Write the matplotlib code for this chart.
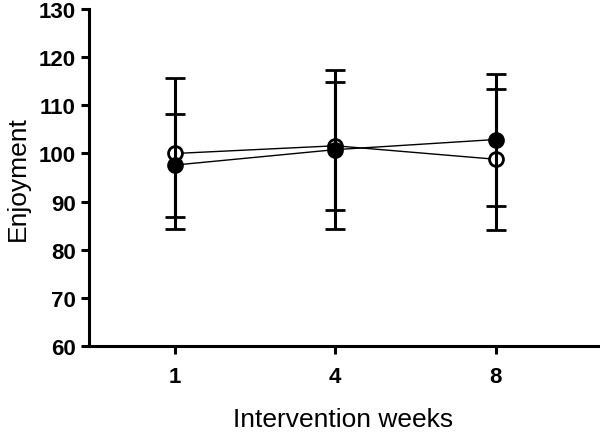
import matplotlib
matplotlib.use("Agg")
import matplotlib.pyplot as plt

weeks = ["1", "4", "8"]
open_mean = [100.0, 101.6, 98.8]
open_sd = [15.7, 13.3, 14.6]
filled_mean = [97.6, 100.8, 102.9]
filled_sd = [10.7, 16.5, 13.7]

plt.rcParams['font.family'] = ['Liberation Sans', 'DejaVu Sans']

fig = plt.figure(figsize=(6, 4.35), dpi=100)
ax = fig.add_axes([0.148, 0.202, 0.849, 0.775])

x = [1, 2, 3]
ax.errorbar(x, open_mean, yerr=open_sd, fmt='-', color='black', lw=1.0,
            elinewidth=2.2, capsize=7, capthick=2.2, marker='o',
            markersize=10, markerfacecolor='white', markeredgecolor='black',
            markeredgewidth=2.0, zorder=3)
ax.errorbar(x, filled_mean, yerr=filled_sd, fmt='-', color='black', lw=1.0,
            elinewidth=2.2, capsize=7, capthick=2.2, marker='o',
            markersize=10, markerfacecolor='black', markeredgecolor='black',
            markeredgewidth=2.0, zorder=4)

ax.set_xlim(0.4625, 3.64)
ax.set_ylim(60, 130)
ax.set_yticks(range(60, 131, 10))
ax.set_xticks(x)
ax.set_xticklabels(weeks)

for s in ['top', 'right']:
    ax.spines[s].set_visible(False)
for s in ['left', 'bottom']:
    ax.spines[s].set_linewidth(2.2)

ax.tick_params(axis='both', width=2.2, length=6, labelsize=16, direction='out')
ax.tick_params(axis='x', pad=8)
for lbl in ax.get_xticklabels() + ax.get_yticklabels():
    lbl.set_fontweight('bold')

ax.set_ylabel("Enjoyment", fontsize=19, labelpad=6)
ax.set_xlabel("Intervention weeks", fontsize=19, labelpad=15)

fig.savefig("out.png", dpi=100)
